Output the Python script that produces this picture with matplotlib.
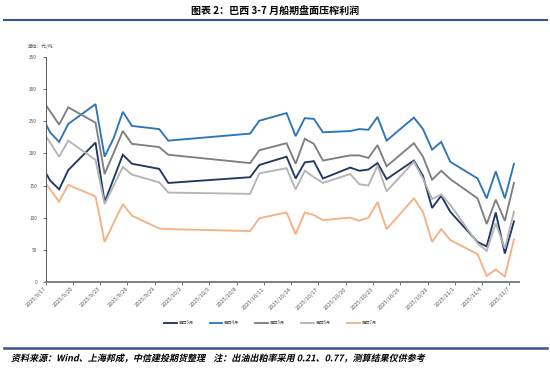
import matplotlib
matplotlib.use("Agg")
import matplotlib.pyplot as plt
from matplotlib.lines import Line2D
from matplotlib.patheffects import AbstractPathEffect
from matplotlib.transforms import Affine2D
import pandas as pd

plt.rcParams['font.family'] = ['Noto Sans CJK SC', 'DejaVu Sans']

# ---------------- data ----------------
dates = ["2025-09-16", "2025-09-17", "2025-09-18", "2025-09-19", "2025-09-22", "2025-09-23",
         "2025-09-24", "2025-09-25", "2025-09-26", "2025-09-29", "2025-09-30",
         "2025-10-09", "2025-10-10", "2025-10-13", "2025-10-14", "2025-10-15", "2025-10-16",
         "2025-10-17", "2025-10-20", "2025-10-21", "2025-10-22", "2025-10-23", "2025-10-24",
         "2025-10-27", "2025-10-28", "2025-10-29", "2025-10-30", "2025-10-31",
         "2025-11-03", "2025-11-04", "2025-11-05", "2025-11-06", "2025-11-07"]

br_mar = [183, 158, 144, 174, 217, 124, 161, 198, 184, 176, 154,
          163, 182, 195, 161, 186, 188, 161, 178, 173, 175, 185, 160,
          189, 165, 115, 134, 109, 62, 55, 108, 44, 94]
br_apr = [261, 233, 218, 246, 277, 195, 224, 265, 243, 238, 220,
          231, 251, 263, 227, 255, 254, 233, 235, 238, 237, 257, 220,
          256, 238, 206, 218, 187, 161, 130, 172, 130, 184]
br_may = [286, 266, 245, 272, 248, 168, 201, 235, 215, 210, 198,
          185, 205, 216, 184, 223, 215, 189, 197, 197, 193, 213, 180,
          216, 195, 159, 173, 160, 130, 90, 128, 95, 154]
br_jun = [239, 217, 195, 220, 190, 121, 150, 179, 167, 155, 139,
          137, 169, 177, 144, 173, 163, 154, 168, 152, 150, 181, 141,
          187, 161, 129, 136, 120, 60, 48, 91, 52, 109]
br_jul = [164, 144, 125, 151, 133, 62, 92, 121, 103, 83, 82,
          79, 99, 108, 74, 108, 104, 96, 100, 95, 100, 124, 82,
          130, 109, 62, 82, 65, 43, 9, 19, 8, 66]

series_names = ["巴西3月", "巴西4月", "巴西5月", "巴西6月", "巴西7月"]
series_vals = [br_mar, br_apr, br_may, br_jun, br_jul]
colors = ["#1f3864", "#2e75b6", "#7f7f7f", "#b4b4b4", "#f4b183"]

axis_start = "2025-09-17"
axis_end = "2025-11-08"
tick_start = "2025-09-17"
tick_end = "2025-11-07"
yticks = [0, 50, 100, 150, 200, 250, 300, 350]

title = "图表 2：巴西 3-7 月船期盘面压榨利润"
unit = "单位：元/吨"
footer = "资料来源：Wind、上海邦成，中信建投期货整理    注：出油出粕率采用 0.21、0.77，测算结果仅供参考"

# ---------------- figure ----------------
W, H = 550, 371
fig = plt.figure(figsize=(W / 100, H / 100), dpi=100)
fig.patch.set_facecolor("white")

ax = fig.add_axes([45.5 / W, 1 - 281.7 / H, (518.5 - 45.5) / W, (281.7 - 57.3) / H])

# points sit in the middle of each day slot (Excel "between tick marks")
x = pd.to_datetime(dates) + pd.Timedelta(hours=12)
for name, vals, c in zip(series_names, series_vals, colors):
    ax.plot(x, vals, color=c, lw=1.35, label=name, solid_joinstyle="miter")

ax.set_xlim(pd.Timestamp(axis_start), pd.Timestamp(axis_end))
ax.set_ylim(0, 350)

tick_dates = pd.date_range(tick_start, tick_end, freq="3D")
ax.set_xticks(tick_dates)
ax.set_xticklabels([f"{d.year}/{d.month}/{d.day}" for d in tick_dates],
                   rotation=45, ha="right", va="center", rotation_mode="anchor",
                   fontsize=4.1, color="#595959")
ax.set_yticks(yticks)
ax.set_yticklabels([str(v) for v in yticks], fontsize=3.4, color="#595959")

ax.tick_params(axis="x", length=2, width=0.6, color="#595959", pad=2.5, direction="out")
ax.tick_params(axis="y", length=2, width=0.6, color="#595959", pad=4.0, direction="out")

for s in ["top", "right"]:
    ax.spines[s].set_visible(False)
ax.spines["left"].set_color("#595959")
ax.spines["left"].set_linewidth(0.7)
ax.spines["bottom"].set_color("#7f7f7f")
ax.spines["bottom"].set_linewidth(1.4)
ax.set_facecolor("white")

# legend
fig.legend(loc="center", bbox_to_anchor=(270 / W, 1 - 322.7 / H), ncol=5, frameon=False,
           fontsize=3.1, handlelength=3.0, columnspacing=3.8, handletextpad=0.3,
           labelcolor="#595959")

# title and rules
fig.text(0.5, 1 - 12 / H, title, ha="center", va="center", fontsize=7.2, weight="bold",
         color="#000000")
rule_color = "#34568b"
fig.add_artist(Line2D([4 / W, 547 / W], [1 - 20 / H] * 2, transform=fig.transFigure,
                      color=rule_color, lw=1.5))
fig.add_artist(Line2D([4 / W, 547 / W], [1 - 348.3 / H] * 2, transform=fig.transFigure,
                      color=rule_color, lw=1.8))

fig.text(28 / W, 1 - 46 / H, unit, ha="left", va="center", fontsize=3.4, color="#595959")


class Oblique(AbstractPathEffect):
    def __init__(self, deg=13):
        super().__init__()
        self._skew = Affine2D().skew_deg(deg, 0)

    def draw_path(self, renderer, gc, tpath, affine, rgbFace=None):
        renderer.draw_path(gc, tpath, self._skew + affine, rgbFace)


fig.text(11 / W, 1 - 358.5 / H, footer, ha="left", va="center", fontsize=6.5,
         weight="bold", color="#000000", path_effects=[Oblique(13)])

fig.savefig("out.png", dpi=100, facecolor="white")
